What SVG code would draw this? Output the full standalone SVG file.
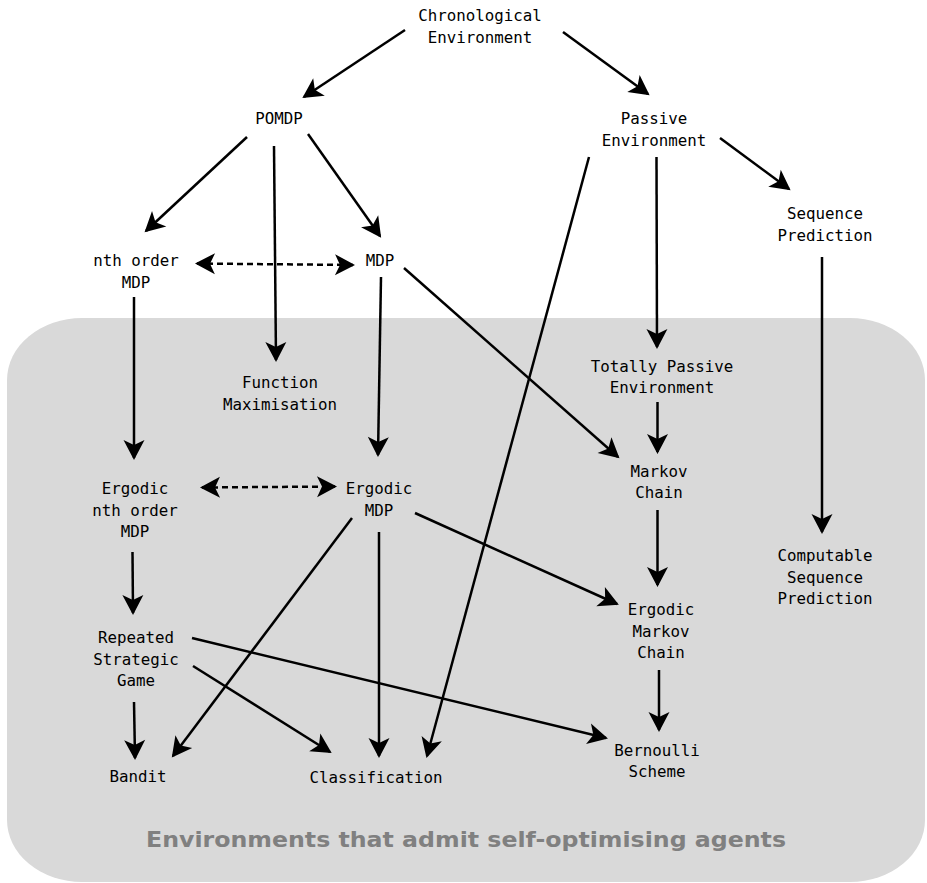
<svg xmlns="http://www.w3.org/2000/svg" width="927" height="883" viewBox="0 0 927 883">
<style>
.n text{font-family:"DejaVu Sans Mono","Liberation Mono",monospace;font-size:15.8px;fill:#000;text-anchor:middle}
.e{stroke:#000;stroke-width:2.5;fill:none;marker-end:url(#ah)}
.d{stroke-dasharray:6,4;marker-start:url(#ah)}
.title{font-family:"DejaVu Sans",sans-serif;font-weight:bold;font-size:21px;fill:#808080;text-anchor:middle}
</style>
<defs>
<marker id="ah" markerUnits="userSpaceOnUse" viewBox="-20 -11 24 22" refX="0" refY="0" markerWidth="24" markerHeight="22" orient="auto-start-reverse">
<path d="M2,0 L-18,-10.5 L-13,0 L-18,10.5 Z" fill="#000"/>
</marker>
</defs>
<rect x="7" y="318" width="918" height="564" rx="75" ry="62" fill="#d9d9d9"/>
<text class="title" x="466" y="847" textLength="640" lengthAdjust="spacingAndGlyphs">Environments that admit self-optimising agents</text>
<g id="connectors">
<line class="e" x1="405" y1="30" x2="304" y2="97"/>
<line class="e" x1="563" y1="32" x2="648" y2="94"/>
<line class="e" x1="247" y1="137" x2="146" y2="231"/>
<line class="e" x1="274" y1="146" x2="276" y2="360"/>
<line class="e" x1="308" y1="134" x2="380" y2="236"/>
<line class="e" x1="589" y1="157" x2="427" y2="756"/>
<line class="e" x1="656.5" y1="157" x2="657" y2="347"/>
<line class="e" x1="720" y1="138" x2="789" y2="189"/>
<line class="e d" x1="197" y1="263.5" x2="353" y2="265"/>
<line class="e" x1="134" y1="297" x2="134" y2="458"/>
<line class="e" x1="381" y1="277" x2="378" y2="455"/>
<line class="e" x1="404" y1="268" x2="618" y2="457"/>
<line class="e" x1="822" y1="257" x2="822" y2="532"/>
<line class="e" x1="657.5" y1="402" x2="657.5" y2="452"/>
<line class="e d" x1="202" y1="487.5" x2="335" y2="486.5"/>
<line class="e" x1="132.5" y1="552" x2="133" y2="613"/>
<line class="e" x1="352" y1="518" x2="173" y2="756"/>
<line class="e" x1="379" y1="532" x2="379" y2="756"/>
<line class="e" x1="415" y1="513" x2="617" y2="604"/>
<line class="e" x1="657.5" y1="510" x2="657.5" y2="585"/>
<line class="e" x1="659" y1="670" x2="659" y2="730"/>
<line class="e" x1="192" y1="638" x2="606" y2="738"/>
<line class="e" x1="134" y1="702" x2="135" y2="758"/>
<line class="e" x1="193" y1="666" x2="330" y2="752"/>
</g>
<g id="chronological" class="n"><text x="480" y="21">Chronological</text><text x="480" y="43">Environment</text></g>
<g id="pomdp" class="n"><text x="279" y="124">POMDP</text></g>
<g id="passive" class="n"><text x="654" y="124">Passive</text><text x="654" y="146">Environment</text></g>
<g id="nth-order-mdp" class="n"><text x="136" y="266">nth order</text><text x="136" y="288">MDP</text></g>
<g id="mdp" class="n"><text x="380" y="266">MDP</text></g>
<g id="sequence-prediction" class="n"><text x="825" y="219">Sequence</text><text x="825" y="241">Prediction</text></g>
<g id="function-maximisation" class="n"><text x="280" y="388">Function</text><text x="280" y="410">Maximisation</text></g>
<g id="totally-passive" class="n"><text x="662" y="372">Totally Passive</text><text x="662" y="393">Environment</text></g>
<g id="ergodic-nth-order-mdp" class="n"><text x="135" y="494">Ergodic</text><text x="135" y="515.5">nth order</text><text x="135" y="537">MDP</text></g>
<g id="ergodic-mdp" class="n"><text x="379" y="494">Ergodic</text><text x="379" y="515.5">MDP</text></g>
<g id="markov-chain" class="n"><text x="659" y="477">Markov</text><text x="659" y="498">Chain</text></g>
<g id="computable-sequence-prediction" class="n"><text x="825" y="561">Computable</text><text x="825" y="582.5">Sequence</text><text x="825" y="604">Prediction</text></g>
<g id="ergodic-markov-chain" class="n"><text x="661" y="615">Ergodic</text><text x="661" y="636.5">Markov</text><text x="661" y="658">Chain</text></g>
<g id="repeated-strategic-game" class="n"><text x="136" y="643">Repeated</text><text x="136" y="664.5">Strategic</text><text x="136" y="686">Game</text></g>
<g id="bernoulli-scheme" class="n"><text x="657" y="756">Bernoulli</text><text x="657" y="777">Scheme</text></g>
<g id="bandit" class="n"><text x="138" y="782">Bandit</text></g>
<g id="classification" class="n"><text x="376" y="783">Classification</text></g>
</svg>
